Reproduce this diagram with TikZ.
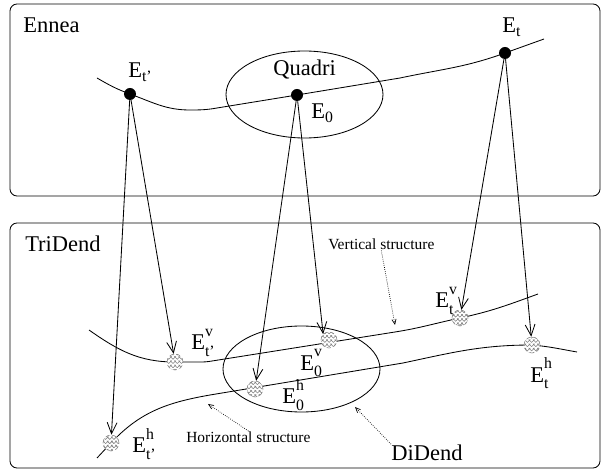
\documentclass[tikz,border=0pt]{standalone}
\usepackage{amsmath}
\usepackage{fontspec}
\setmainfont{Liberation Serif}
\usetikzlibrary{arrows.meta,patterns}

\newcommand{\elbl}[2]{E$_{\text{#1}}^{\text{\raisebox{3pt}{#2}}}$}

\begin{document}
\begin{tikzpicture}[x=0.025cm, y=0.025cm,
        frame/.style={draw, line width=0.6pt, rounded corners=5pt},
        curve/.style={line width=0.6pt},
        zone/.style={draw, line width=0.6pt},
        bdot/.style={circle, fill=black, inner sep=0pt, minimum size=0.3cm},
        hdot/.style={circle, draw=gray, densely dashed, line width=0.4pt, preaction={fill=white}, pattern=crosshatch, pattern color=gray, inner sep=0pt, minimum size=0.4cm},
        lbl/.style={anchor=base west, inner sep=0pt, font=\fontsize{16}{19}\selectfont},
        note/.style={anchor=base west, inner sep=0pt, font=\fontsize{11}{13}\selectfont},
        map/.style={line width=0.6pt, -{Straight Barb[length=8pt, width=7pt]}},
        hint/.style={line width=0.5pt, densely dotted, -{Straight Barb[length=3.5pt, width=3pt]}}
    ]
    \useasboundingbox (0,0) rectangle (601,469);

    % Frames
    \draw[frame] (10,273) rectangle (600,465);
    \draw[frame] (10,1) rectangle (600,246);
    \node[lbl] (ennea) at (23,436) {Ennea};
    \node[lbl] (tridend) at (25,217) {TriDend};

    % Ennea curve and Quadri
    \draw[curve] (97,391) to[out=-30,in=160] (130,375) to[out=-20,in=180] (190,359)
        to[out=0,in=190] (217,361) -- (297,374) -- (400,391) to[out=12,in=-160] (505,416) -- (544,430);
    \draw[zone] (304.5,374.5) ellipse [x radius=78.5, y radius=43.5];

    % Vertical and horizontal structures, DiDend
    \draw[curve] (89,139) to[out=-35,in=180] (175,107) -- (200,107) to[out=0,in=190] (212,108)
        -- (395,137) to[out=9,in=-168] (460,151) to[out=12,in=-160] (538,175);
    \draw[curve] (97,11) -- (111,26) to[out=47,in=190] (210,74) -- (403,106)
        to[out=12,in=180] (532,124) to[out=-5,in=170] (577,117);
    \draw[zone] (301.5,100) ellipse [x radius=78.5, y radius=43];

    % Points
    \node[bdot] (etp) at (130,375) {};
    \node[bdot] (eq) at (297,374) {};
    \node[bdot] (et) at (505,416) {};
    \node[hdot] (etpv) at (175,107) {};
    \node[hdot] (etph) at (111,26) {};
    \node[hdot] (e0v) at (329,129) {};
    \node[hdot] (e0h) at (255,80) {};
    \node[hdot] (etv) at (460,151) {};
    \node[hdot] (eth) at (532,124) {};

    % Point labels
    \node[lbl] (etplbl) at (128,391) {E$_{\text{t'}}$};
    \node[lbl] (quadri) at (273,393) {Quadri};
    \node[lbl] (e0lbl) at (311,350) {E$_{\text{0}}$};
    \node[lbl] (etlbl) at (502,436) {E$_{\text{t}}$};
    \node[lbl] (etpvlbl) at (191,119) {\elbl{t'}{v}};
    \node[lbl] (e0vlbl) at (300,99) {\elbl{0}{v}};
    \node[lbl] (e0hlbl) at (282,65) {\elbl{0}{h}};
    \node[lbl] (etvlbl) at (435,161) {\elbl{t}{v}};
    \node[lbl] (ethlbl) at (530,87) {\elbl{t}{h}};
    \node[lbl] (etphlbl) at (132,16) {\elbl{t'}{h}};
    \node[lbl] (didend) at (391,9) {DiDend};
    \node[note] (vs) at (328,219) {Vertical structure};
    \node[note] (hs) at (186,27) {Horizontal structure};

    % Maps
    \draw[map] (etp) -- (etph);
    \draw[map] (etp) -- (etpv);
    \draw[map] (eq) -- (e0h);
    \draw[map] (eq) -- (e0v.north west);
    \draw[map] (et) -- (etv);
    \draw[map] (et) -- (eth);

    % Hints
    \coordinate (vsend) at (395,144);
    \coordinate (hsend) at (208,65);
    \coordinate (ddend) at (355,62);
    \draw[hint] (vs.south) -- (vsend);
    \draw[hint] (hs.north) -- (hsend);
    \draw[hint] (didend.north west) -- (ddend);

\end{tikzpicture}
\end{document}
